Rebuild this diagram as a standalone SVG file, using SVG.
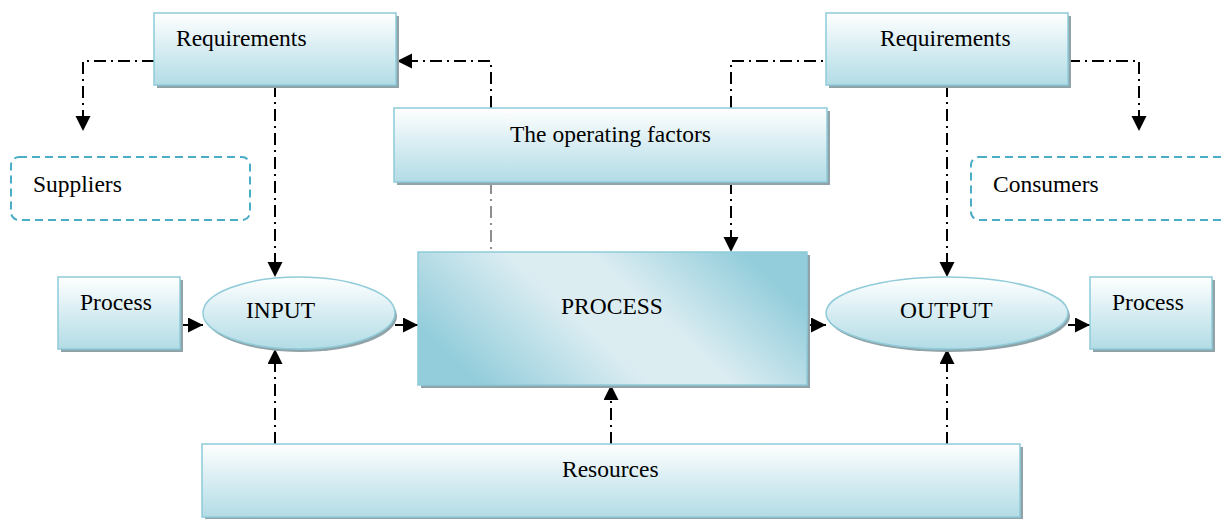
<svg xmlns="http://www.w3.org/2000/svg" width="1225" height="519" viewBox="0 0 1225 519">
<defs>
<linearGradient id="g" x1="0" y1="0" x2="0" y2="1">
<stop offset="0" stop-color="#ffffff"/>
<stop offset="0.55" stop-color="#d3ebf1"/>
<stop offset="1" stop-color="#b3dce6"/>
</linearGradient>
<linearGradient id="gp" gradientUnits="userSpaceOnUse" x1="520" y1="420" x2="705" y2="218">
<stop offset="0" stop-color="#93cddb"/>
<stop offset="0.42" stop-color="#dcedf2"/>
<stop offset="0.62" stop-color="#dcedf2"/>
<stop offset="1" stop-color="#93cddb"/>
</linearGradient>
<marker id="ah" markerUnits="userSpaceOnUse" markerWidth="16" markerHeight="16" refX="15" refY="7.5" orient="auto">
<path d="M0,0 L15,7.5 L0,15 z" fill="#000"/>
</marker>
</defs>
<style>
.box{fill:url(#g);stroke:#8fcbd9;stroke-width:1.5}
.sh{fill:#8fa3a8}
.dash{fill:none;stroke:#4bacc6;stroke-width:2;stroke-dasharray:8 5}
.t{font-family:"Liberation Serif","Times New Roman",serif;font-size:23.5px;fill:#000}
.dd{fill:none;stroke:#000;stroke-width:2;stroke-dasharray:12 5 2 5}
.thin{fill:none;stroke:#444;stroke-width:1.2;stroke-dasharray:12 5 2 5}
.sol{fill:none;stroke:#000;stroke-width:2}
</style>
<g id="connectors">
<path class="dd" d="M154,61 H83 V131" marker-end="url(#ah)"/>
<path class="dd" d="M491,108 V61 H397" marker-end="url(#ah)"/>
<path class="dd" d="M731,108 V61 H826"/>
<path class="dd" d="M1068,61 H1139 V131" marker-end="url(#ah)"/>
<path class="dd" d="M275,85 V277" marker-end="url(#ah)"/>
<path class="dd" d="M947,85 V277" marker-end="url(#ah)"/>
<path class="thin" d="M491,182 V252"/>
<path class="dd" d="M731,182 V252" marker-end="url(#ah)"/>
<path class="dd" d="M275,444 V349" marker-end="url(#ah)"/>
<path class="dd" d="M611,444 V385" marker-end="url(#ah)"/>
<path class="dd" d="M947,444 V349" marker-end="url(#ah)"/>
<path class="sol" d="M180,325 H203" marker-end="url(#ah)"/>
<path class="sol" d="M395,325 H418" marker-end="url(#ah)"/>
<path class="sol" d="M807,325 H826" marker-end="url(#ah)"/>
<path class="sol" d="M1068,325 H1090" marker-end="url(#ah)"/>
</g>
<g id="req-left">
<rect class="sh" x="157" y="16" width="242" height="72"/>
<rect class="box" x="154" y="13" width="242" height="72"/>
<text class="t" x="176" y="46">Requirements</text>
</g>
<g id="req-right">
<rect class="sh" x="829" y="16" width="242" height="72"/>
<rect class="box" x="826" y="13" width="242" height="72"/>
<text class="t" x="880" y="46">Requirements</text>
</g>
<g id="operating">
<rect class="sh" x="397" y="111" width="433" height="74"/>
<rect class="box" x="394" y="108" width="433" height="74"/>
<text class="t" x="510" y="142">The operating factors</text>
</g>
<g id="suppliers">
<rect class="dash" x="11" y="157" width="239" height="63" rx="8"/>
<text class="t" x="33" y="192">Suppliers</text>
</g>
<g id="consumers">
<rect class="dash" x="971" y="157" width="270" height="63" rx="8"/>
<text class="t" x="993" y="192">Consumers</text>
</g>
<g id="process-left">
<rect class="sh" x="61" y="280" width="122" height="72"/>
<rect class="box" x="58" y="277" width="122" height="72"/>
<text class="t" x="80" y="310">Process</text>
</g>
<g id="input">
<ellipse class="sh" cx="301" cy="316" rx="96" ry="36"/>
<ellipse class="box" cx="299" cy="313" rx="96" ry="36"/>
<text class="t" x="246" y="318">INPUT</text>
</g>
<g id="process">
<rect class="sh" x="421" y="255" width="389" height="133"/>
<rect x="418" y="252" width="389" height="133" fill="url(#gp)" stroke="#8fcbd9" stroke-width="1.5"/>
<text class="t" x="561" y="314">PROCESS</text>
</g>
<g id="output">
<ellipse class="sh" cx="949" cy="316" rx="121" ry="36"/>
<ellipse class="box" cx="947" cy="313" rx="121" ry="36"/>
<text class="t" x="900" y="318">OUTPUT</text>
</g>
<g id="process-right">
<rect class="sh" x="1093" y="280" width="122" height="72"/>
<rect class="box" x="1090" y="277" width="122" height="72"/>
<text class="t" x="1112" y="310">Process</text>
</g>
<g id="resources">
<rect class="sh" x="205" y="447" width="818" height="73"/>
<rect class="box" x="202" y="444" width="818" height="73"/>
<text class="t" x="562" y="477">Resources</text>
</g>
</svg>
